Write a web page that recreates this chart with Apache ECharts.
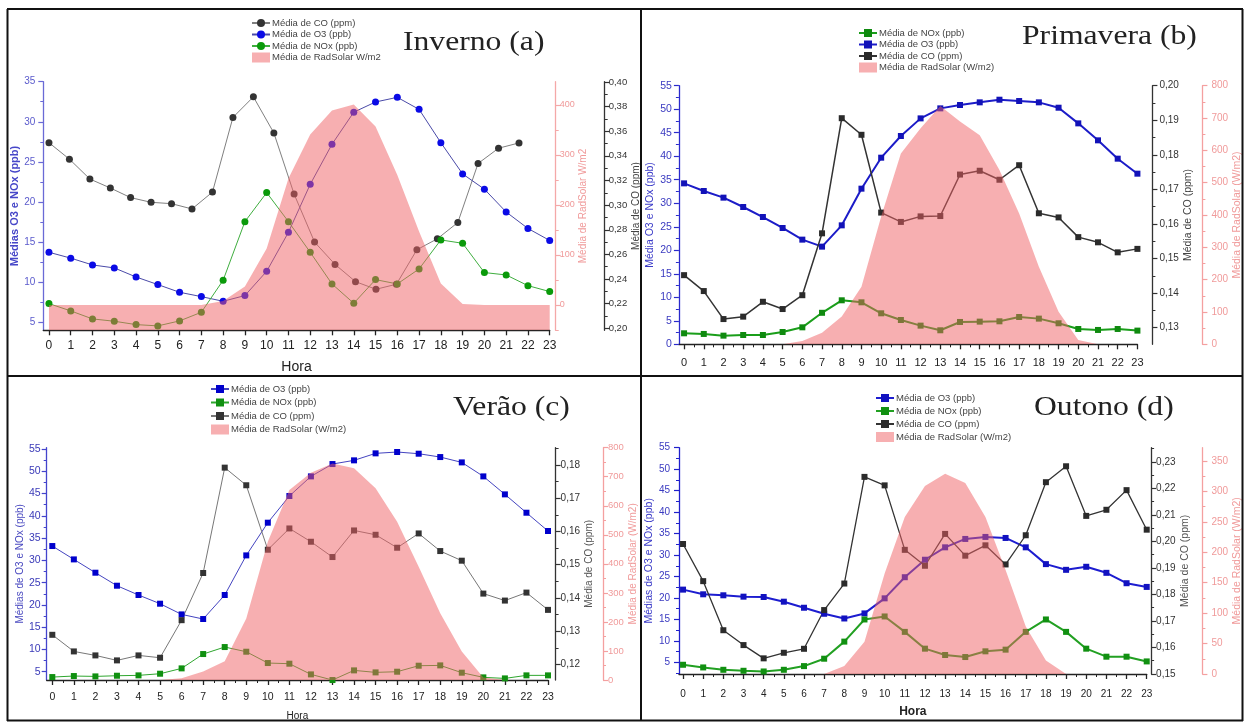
<!DOCTYPE html>
<html><head><meta charset="utf-8">
<script src="https://cdn.jsdelivr.net/npm/echarts@6/dist/echarts.min.js"></script>
<style>html,body{margin:0;padding:0;background:#fff}#c{width:1244px;height:722px}</style>
</head><body><div id="c"></div><script>
// ---------- DATA ----------
const hours = [0,1,2,3,4,5,6,7,8,9,10,11,12,13,14,15,16,17,18,19,20,21,22,23];

// (a) Inverno
const aO3  = [13.73,13.0,12.15,11.78,10.65,9.70,8.74,8.2,7.62,8.33,11.36,16.22,22.2,27.2,31.2,32.47,33.05,31.55,27.4,23.5,21.6,18.75,16.7,15.2];
const aNOx = [7.33,6.42,5.42,5.13,4.71,4.55,5.17,6.25,10.24,17.55,21.17,17.55,13.73,9.78,7.37,10.32,9.78,11.65,15.27,14.85,11.2,10.9,9.57,8.83];
const aCO  = [0.3507,0.3373,0.3212,0.3139,0.3061,0.3023,0.3012,0.2969,0.3106,0.3712,0.3879,0.3586,0.3090,0.2700,0.2519,0.2379,0.2317,0.2358,0.2638,0.2727,0.2859,0.3338,0.3462,0.3505];
const aCOX = [0,0.94,1.88,2.82,3.75,4.69,5.63,6.57,7.51,8.45,9.39,10.33,11.26,12.2,13.14,14.08,15.02,15.96,16.9,17.84,18.78,19.71,20.65,21.59];
const aRad = [0,0,0,0,0,0,0,0,8,37,113,253,341,389,401,357,260,147,43,2,0,0,0,0];

// (b) Primavera
const bO3  = [34.23,32.6,31.19,29.2,27.07,24.74,22.26,20.77,25.3,33.1,39.69,44.3,48.05,50.18,50.89,51.46,52.02,51.74,51.46,50.32,46.99,43.38,39.48,36.29];
const bNOx = [2.34,2.2,1.84,1.98,1.98,2.62,3.61,6.7,9.36,8.93,6.59,5.17,3.97,2.98,4.75,4.82,4.89,5.81,5.46,4.47,3.26,3.05,3.26,2.91];
const bCO  = [0.1452,0.1406,0.1325,0.1332,0.1375,0.1354,0.1394,0.1573,0.1906,0.1858,0.1633,0.1606,0.1622,0.1623,0.1743,0.1754,0.1728,0.1770,0.1631,0.1619,0.1562,0.1547,0.1518,0.1528];
const bRad = [0,0,0,0,0,0,10,36,86,178,395,590,668,737,689,647,539,405,240,101,13,0,0,0];

// (c) Verão
const cO3  = [33.22,30.22,27.23,24.31,22.22,20.27,17.87,16.83,22.22,31.12,38.46,44.45,48.86,51.63,52.46,54.03,54.33,53.95,53.2,52.0,48.86,44.82,40.7,36.59];
const cNOx = [3.8,4.03,3.95,4.1,4.18,4.55,5.75,8.97,10.54,9.49,6.95,6.8,4.4,3.13,5.3,4.85,5.0,6.35,6.42,4.78,3.73,3.5,4.18,4.18];
const cCO  = [0.1289,0.1239,0.1227,0.1212,0.1227,0.122,0.1333,0.1475,0.1792,0.1739,0.1545,0.1609,0.1569,0.1523,0.1603,0.159,0.1551,0.1594,0.1541,0.1512,0.1413,0.1392,0.1416,0.1364];
const cRad = [0,0,0,0,0,0,6,29,65,212,476,654,714,746,729,660,545,390,230,98,9,0,0,0];

// (d) Outono
const dO3  = [21.95,20.86,20.63,20.31,20.23,19.14,17.73,16.33,15.23,16.41,19.92,24.84,28.91,31.8,33.75,34.22,33.98,31.8,27.89,26.56,27.27,25.86,23.44,22.58];
const dNOx = [4.45,3.83,3.28,3.05,2.89,3.28,4.14,5.86,9.84,15.0,15.7,12.11,8.2,6.72,6.25,7.58,7.97,12.11,15.0,12.11,8.2,6.33,6.33,5.23];
const dCO  = [0.199,0.185,0.1665,0.1609,0.1559,0.158,0.1595,0.1741,0.1841,0.2243,0.2211,0.1968,0.1908,0.2028,0.1946,0.1985,0.1913,0.2023,0.2223,0.2283,0.2096,0.2119,0.2193,0.2044];
const dRad = [0,0,0,0,0,0,0,0,13,53,165,258,309,329,314,258,171,78,22,0,0,0,0,0];

// tick labels
const aLeftTicks = [5,10,15,20,25,30,35];
const aRadTicks  = [0,100,200,300,400];
const aCOTicks   = [0.20,0.22,0.24,0.26,0.28,0.30,0.32,0.34,0.36,0.38,0.40];
const bLeftTicks = [0,5,10,15,20,25,30,35,40,45,50,55];
const bCOTicks   = [0.13,0.14,0.15,0.16,0.17,0.18,0.19,0.20];
const bRadTicks  = [0,100,200,300,400,500,600,700,800];
const cLeftTicks = [5,10,15,20,25,30,35,40,45,50,55];
const cCOTicks   = [0.12,0.13,0.14,0.15,0.16,0.17,0.18];
const cRadTicks  = [0,100,200,300,400,500,600,700,800];
const dLeftTicks = [5,10,15,20,25,30,35,40,45,50,55];
const dCOTicks   = [0.15,0.16,0.17,0.18,0.19,0.20,0.21,0.22,0.23];
const dRadTicks  = [0,50,100,150,200,250,300,350];

// ---------- BUILD ----------
const NARROW = '"Liberation Sans Narrow","Arial Narrow","Liberation Sans",sans-serif';
const SANS = '"Liberation Sans",Arial,sans-serif';
const PINK = 'rgba(240,96,100,0.5)';
const fmtC = v => v.toFixed(2).replace('.', ',');
const fmtI = v => String(Math.round(v));
const grid=[], xAxis=[], yAxis=[], series=[], legend=[], graphic=[];

function minorsOf(ticks, min, max){
  const step = ticks[1]-ticks[0], out=[];
  for (let v = ticks[0]-step/2; v <= max+1e-9; v += step) if (v >= min-1e-9) out.push(+v.toFixed(6));
  return out;
}
function pairs(xs, ys){ return xs.map((x,i)=>[x, ys[i]]); }

function addY(gi, pos, A){
  const idx = yAxis.length;
  yAxis.push({type:'value', gridIndex:gi, position:pos, offset:A.off||0, min:A.min, max:A.max,
    axisLine:{show:true,onZero:false,lineStyle:{color:A.color,width:A.lw||1.3}},
    axisTick:{show:true,customValues:A.ticks,length:5,lineStyle:{color:A.color,width:1.2}},
    axisLabel:{show:true,customValues:A.ticks,formatter:A.fmt,color:A.labelColor||A.color,fontSize:A.font||10,fontFamily:NARROW,margin:A.margin},
    splitLine:{show:false},
    name:A.name,nameLocation:'middle',nameRotate:90,nameGap:A.gap,
    nameTextStyle:{color:A.nameColor||A.labelColor||A.color,fontSize:A.nameFont||10,fontFamily:SANS,fontWeight:A.nameWeight||'normal'}});
  yAxis.push({type:'value', gridIndex:gi, position:pos, offset:A.off||0, min:A.min, max:A.max,
    axisLine:{show:false,onZero:false}, axisTick:{show:true,customValues:minorsOf(A.ticks,A.min,A.max),length:3,lineStyle:{color:A.color,width:1}},
    axisLabel:{show:false}, splitLine:{show:false}});
  return idx;
}

function panel(P){
  const gi = grid.length;
  grid.push({left:P.g[0], top:P.g[1], width:P.g[2]-P.g[0], height:P.g[3]-P.g[1]});
  const xi = xAxis.length;
  xAxis.push({type:'value', gridIndex:gi, min:P.xmin, max:23, position:'bottom',
    axisLine:{show:true,onZero:false,lineStyle:{color:'#222',width:1.3}},
    axisTick:{show:true,customValues:hours,length:5,lineStyle:{color:'#222',width:1.3}},
    axisLabel:{show:true,customValues:hours,fontSize:P.xFont,color:'#222',margin:P.xMargin,fontFamily:NARROW},
    splitLine:{show:false},
    name:P.xName||'', nameLocation:'middle', nameGap:P.xNameGap||30,
    nameTextStyle:{fontSize:P.xNameFont||12,color:'#222',fontFamily:NARROW,fontWeight:P.xNameWeight||'normal'}});
  if (P.xMinor) xAxis.push({type:'value', gridIndex:gi, min:P.xmin, max:23, position:'bottom',
    axisLine:{show:false,onZero:false}, axisTick:{show:true,customValues:minorsOf(hours,P.xmin,23),length:3,lineStyle:{color:'#222',width:1}},
    axisLabel:{show:false}, splitLine:{show:false}});
  const yL = addY(gi,'left',P.left), yR = addY(gi,'right',P.rad), yC = addY(gi,'right',P.co);
  const legData = [];
  P.items.forEach(it=>{
    const nm = P.key+'|'+it.label;
    if (it.kind==='Rad'){
      legData.push({name:nm, icon:'rect'});
      series.push({type:'line', name:nm, xAxisIndex:xi, yAxisIndex:yR, data:pairs(hours,it.data), symbol:'none',
        lineStyle:{width:0}, itemStyle:{color:PINK}, areaStyle:{color:PINK, opacity:1, origin:'start'}, z:3, silent:true});
    } else {
      legData.push({name:nm});
      const st = P.style[it.kind];
      series.push({type:'line', name:nm, xAxisIndex:xi, yAxisIndex: it.kind==='CO'?yC:yL,
        data:pairs(it.x||hours,it.data), symbol:P.symbol, symbolSize:P.symbolSize, showSymbol:true,
        itemStyle:{color:st.sym}, lineStyle:{color:st.line,width:st.w}, z:2, silent:true});
    }
  });
  legend.push({left:P.leg[0], top:P.leg[1], orient:'vertical', padding:0, itemGap:P.leg[2], itemWidth:18, itemHeight:10,
    selectedMode:false, data:legData, formatter:n=>n.split('|')[1],
    textStyle:{fontSize:9.5,color:'#444',fontFamily:NARROW,padding:[0,0,0,-3]}});
  graphic.push({type:'text', x:P.title[1], y:P.title[2], scaleX:1.13, z:10,
    style:{text:P.title[0], font:'28px "Liberation Serif","Times New Roman",serif', fill:'#222', verticalAlign:'middle'}});
}

const blueL = '#4a4aa8';
panel({key:'a', g:[43.3,81.7,549.7,330.3], xmin:-0.26, xFont:12, xMargin:9, xName:'Hora', xNameGap:30, xNameFont:14,
  left:{min:4,max:35,ticks:aLeftTicks,fmt:fmtI,color:'#6a6ad6',labelColor:'#5a5acc',margin:8,font:10,
        name:'Médias O3 e NOx (ppb)',nameColor:'#4646c8',nameFont:11,nameWeight:'bold',gap:17},
  rad:{off:6,min:-50.6,max:446.6,ticks:aRadTicks,fmt:fmtI,color:'#f4a8a8',labelColor:'#f09a9a',margin:4,font:9,
       name:'Média de RadSolar W/m2',nameFont:10,gap:14},
  co:{off:55,min:0.1984,max:0.4002,ticks:aCOTicks,fmt:fmtC,color:'#333',margin:4,font:9.5,
      name:'Média de CO (ppm)',nameColor:'#444',nameFont:10,gap:24},
  symbol:'circle', symbolSize:7,
  style:{O3:{sym:'#0a0ae6',line:blueL,w:1},NOx:{sym:'#0a9a0a',line:'#3fae3f',w:1},CO:{sym:'#333',line:'#808080',w:1}},
  items:[{label:'Média de CO (ppm)',kind:'CO',data:aCO,x:aCOX},{label:'Média de O3 (ppb)',kind:'O3',data:aO3},
         {label:'Média de NOx (ppb)',kind:'NOx',data:aNOx},{label:'Média de RadSolar W/m2',kind:'Rad',data:aRad}],
  leg:[251,18,1.5], title:['Inverno (a)',403,43]});

panel({key:'b', g:[678.9,85.7,1140.1,344.3], xmin:-0.262, xMinor:true, xFont:11, xMargin:13,
  left:{min:0,max:55,ticks:bLeftTicks,fmt:fmtI,color:'#2a2acc',labelColor:'#3a3ac0',margin:7,font:10.5,
        name:'Média O3 e NOx (ppb)',nameColor:'#3a3ac8',nameFont:10.5,gap:23},
  co:{off:15,min:0.1252,max:0.20,ticks:bCOTicks,fmt:fmtC,color:'#333',margin:7,font:10,
      name:'Média de CO (ppm)',nameColor:'#444',nameFont:10.5,gap:29},
  rad:{off:65,min:0,max:800,ticks:bRadTicks,fmt:fmtI,color:'#f4a0a0',labelColor:'#f09a9a',margin:9,font:10,
       name:'Média de RadSolar (W/m2)',nameFont:10.5,gap:25},
  symbol:'rect', symbolSize:6,
  style:{O3:{sym:'#1212b8',line:'#1c1cc8',w:2},NOx:{sym:'#0f8a0f',line:'#1a9e1a',w:2},CO:{sym:'#2b2b2b',line:'#333',w:1.5}},
  items:[{label:'Média de NOx (ppb)',kind:'NOx',data:bNOx},{label:'Média de O3 (ppb)',kind:'O3',data:bO3},
         {label:'Média de CO (ppm)',kind:'CO',data:bCO},{label:'Média de RadSolar (W/m2)',kind:'Rad',data:bRad}],
  leg:[858,28,1.5], title:['Primavera (b)',1022,37]});

panel({key:'c', g:[46.7,447.7,548,680], xmin:-0.26, xMinor:true, xFont:10.5, xMargin:12, xName:'Hora', xNameGap:31, xNameFont:10,
  left:{min:3.14,max:55.3,ticks:cLeftTicks,fmt:fmtI,color:'#4444cc',labelColor:'#3a3ab8',margin:6,font:10.5,
        name:'Médias de O3 e NOx (ppb)',nameColor:'#4a4ac0',nameFont:10,gap:19},
  co:{off:7.6,min:0.1153,max:0.1852,ticks:cCOTicks,fmt:fmtC,color:'#333',margin:5,font:10,
      name:'Média de CO (ppm)',nameColor:'#555',nameFont:10,gap:26},
  rad:{off:55,min:0,max:800,ticks:cRadTicks,fmt:fmtI,color:'#f4a0a0',labelColor:'#f09a9a',margin:5,font:9.5,
       name:'Média de RadSolar (W/m2)',nameFont:10,gap:20},
  symbol:'rect', symbolSize:6,
  style:{O3:{sym:'#0000cc',line:'#4444c0',w:1},NOx:{sym:'#109010',line:'#2fa62f',w:1},CO:{sym:'#333',line:'#777',w:1}},
  items:[{label:'Média de O3 (ppb)',kind:'O3',data:cO3},{label:'Média de NOx (ppb)',kind:'NOx',data:cNOx},
         {label:'Média de CO (ppm)',kind:'CO',data:cCO},{label:'Média de RadSolar (W/m2)',kind:'Rad',data:cRad}],
  leg:[210,384,3.5], title:['Verão (c)',453,408]});

panel({key:'d', g:[679,447.7,1152.3,674], xmin:-0.2, xMinor:true, xFont:10, xMargin:15, xName:'Hora', xNameGap:32, xNameFont:12, xNameWeight:'bold',
  left:{min:2.3,max:55,ticks:dLeftTicks,fmt:fmtI,color:'#2020cc',labelColor:'#3a3ac0',margin:9,font:10,
        name:'Médias de O3 e NOx (ppb)',nameColor:'#3a3ac8',nameFont:10.5,gap:22},
  co:{off:4.4,min:0.15,max:0.2353,ticks:dCOTicks,fmt:fmtC,color:'#333',margin:5,font:10,
      name:'Média de CO (ppm)',nameColor:'#555',nameFont:10.5,gap:28},
  rad:{off:55.7,min:0,max:371.8,ticks:dRadTicks,fmt:fmtI,color:'#f4a0a0',labelColor:'#f09a9a',margin:9,font:10,
       name:'Média de RadSolar (W/m2)',nameFont:10.5,gap:24},
  symbol:'rect', symbolSize:6,
  style:{O3:{sym:'#1212c0',line:'#1d1dd0',w:2},NOx:{sym:'#119011',line:'#22a022',w:2},CO:{sym:'#2b2b2b',line:'#333',w:1.3}},
  items:[{label:'Média de O3 (ppb)',kind:'O3',data:dO3},{label:'Média de NOx (ppb)',kind:'NOx',data:dNOx},
         {label:'Média de CO (ppm)',kind:'CO',data:dCO},{label:'Média de RadSolar (W/m2)',kind:'Rad',data:dRad}],
  leg:[875,393,3], title:['Outono (d)',1034,408]});

// frame
const frameLines = [[7,9,1243,9],[7,720.5,1243,720.5],[7.5,9,7.5,721],[1242.5,9,1242.5,721],[7,376,1243,376],[641,9,641,721]];
frameLines.forEach(l=>graphic.push({type:'line', z:20, shape:{x1:l[0],y1:l[1],x2:l[2],y2:l[3]}, style:{stroke:'#111',lineWidth:2}}));

const chart = echarts.init(document.getElementById('c'), null, {renderer:'canvas'});
chart.setOption({animation:false, backgroundColor:'#fff', grid, xAxis, yAxis, series, legend, graphic});
</script></body></html>
